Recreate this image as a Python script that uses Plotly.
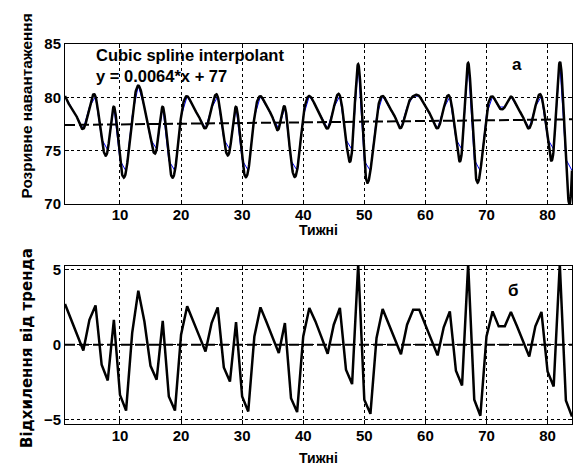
import numpy as np
import plotly.graph_objects as go

# ---------------- data ----------------
weeks = list(range(1, 85))

load = [80.13, 79.08, 78.09, 77.05, 79.10, 80.07, 76.10, 75.06, 79.13, 74.11,
        73.07, 78.28, 81.10, 79.04, 76.09, 75.16, 79.11, 74.06, 73.12, 78.20,
        80.10, 79.04, 78.11, 77.10, 79.01, 80.07, 76.05, 75.12, 79.11, 74.13,
        73.14, 78.16, 80.11, 79.12, 78.09, 77.07, 79.09, 74.07, 73.15, 78.22,
        80.12, 79.23, 78.17, 77.08, 79.03, 80.15, 76.03, 75.08, 83.11, 74.04,
        73.11, 78.18, 80.13, 79.13, 78.20, 77.13, 79.10, 80.11, 80.12, 79.10,
        78.17, 77.09, 78.97, 80.04, 76.08, 75.10, 83.23, 74.16, 73.09, 78.41,
        80.08, 79.09, 79.10, 80.06, 79.11, 78.14, 77.11, 79.13, 80.10, 76.12,
        75.13, 83.32, 74.20, 73.14]

deviation = [2.72, 1.67, 0.67, -0.38, 1.67, 2.63, -1.34, -2.39, 1.67, -3.35,
             -4.40, 0.80, 3.62, 1.55, -1.41, -2.34, 1.60, -3.46, -4.40, 0.67,
             2.57, 1.50, 0.56, -0.45, 1.45, 2.50, -1.52, -2.46, 1.52, -3.46,
             -4.46, 0.56, 2.50, 1.50, 0.47, -0.56, 1.45, -3.57, -4.50, 0.56,
             2.46, 1.56, 0.49, -0.60, 1.34, 2.46, -1.67, -2.63, 5.40, -3.68,
             -4.62, 0.45, 2.39, 1.38, 0.45, -0.63, 1.34, 2.34, 2.34, 1.32,
             0.38, -0.71, 1.17, 2.23, -1.74, -2.72, 5.40, -3.68, -4.75, 0.56,
             2.23, 1.23, 1.23, 2.19, 1.23, 0.25, -0.78, 1.23, 2.19, -1.79,
             -2.79, 5.40, -3.73, -4.80]

trend_slope = 0.0064
trend_intercept = 77.4

x_ticks = [10, 20, 30, 40, 50, 60, 70, 80]
y_ticks_top = [70, 75, 80, 85]
y_ticks_bottom = [-5, 0, 5]

label_fit = "Cubic spline interpolant<br>y = 0.0064*x + 77"
ylabel_top = "Розривне навантаження"
ylabel_bottom = "Відхилення від тренда"
xlabel = "Тижні"


# ---------------- cubic spline (not-a-knot) ----------------
def spline_not_a_knot(x, y, xs):
    x = np.asarray(x, float)
    y = np.asarray(y, float)
    n = len(x)
    h = np.diff(x)
    A = np.zeros((n, n))
    b = np.zeros(n)
    for i in range(1, n - 1):
        A[i, i - 1] = h[i - 1]
        A[i, i] = 2 * (h[i - 1] + h[i])
        A[i, i + 1] = h[i]
        b[i] = 6 * ((y[i + 1] - y[i]) / h[i] - (y[i] - y[i - 1]) / h[i - 1])
    A[0, 0] = -h[1]
    A[0, 1] = h[0] + h[1]
    A[0, 2] = -h[0]
    A[n - 1, n - 3] = -h[n - 2]
    A[n - 1, n - 2] = h[n - 2] + h[n - 3]
    A[n - 1, n - 1] = -h[n - 3]
    M = np.linalg.solve(A, b)
    idx = np.clip(np.searchsorted(x, xs) - 1, 0, n - 2)
    t0 = x[idx]
    t1 = x[idx + 1]
    hh = t1 - t0
    a = t1 - xs
    bb = xs - t0
    return (M[idx] * a ** 3 / (6 * hh) + M[idx + 1] * bb ** 3 / (6 * hh)
            + (y[idx] / hh - M[idx] * hh / 6) * a
            + (y[idx + 1] / hh - M[idx + 1] * hh / 6) * bb)


xs = np.linspace(weeks[0], weeks[-1], (weeks[-1] - weeks[0]) * 20 + 1)
ys = spline_not_a_knot(weeks, load, xs)
trend = [trend_intercept + trend_slope * w for w in weeks]

FONT = "Liberation Sans, Arial, sans-serif"

fig = go.Figure()
fig.add_trace(go.Scatter(x=weeks, y=load, mode="lines",
                         line=dict(color="#0000ff", width=1),
                         xaxis="x", yaxis="y", showlegend=False))
fig.add_trace(go.Scatter(x=xs, y=ys, mode="lines",
                         line=dict(color="black", width=2.5),
                         xaxis="x", yaxis="y", showlegend=False))
fig.add_trace(go.Scatter(x=weeks, y=trend, mode="lines",
                         line=dict(color="black", width=2, dash="10px,4px"),
                         xaxis="x", yaxis="y", showlegend=False))

fig.add_trace(go.Scatter(x=weeks, y=deviation, mode="lines",
                         line=dict(color="black", width=2.5),
                         xaxis="x2", yaxis="y2", showlegend=False))
fig.add_trace(go.Scatter(x=[weeks[0], weeks[-1]], y=[0, 0], mode="lines",
                         line=dict(color="black", width=2, dash="10px,4px"),
                         xaxis="x2", yaxis="y2", showlegend=False))

axis_common = dict(showline=True, linecolor="black", linewidth=1, mirror="ticks",
                   ticks="inside", ticklen=4, tickcolor="black",
                   showgrid=True, gridcolor="black", gridwidth=1, griddash="dot",
                   zeroline=False,
                   tickfont=dict(family=FONT, size=15, color="black", weight="bold"))

fig.update_layout(
    width=573, height=467,
    margin=dict(l=65, r=1, t=44, b=43),
    paper_bgcolor="white", plot_bgcolor="white",
    xaxis=dict(domain=[0, 1], range=[1, 84], tickvals=x_ticks, anchor="y",
               ticklabelstandoff=-3, **axis_common),
    yaxis=dict(domain=[0.5789, 1], range=[70, 85], tickvals=y_ticks_top, anchor="x", **axis_common),
    xaxis2=dict(domain=[0, 1], range=[1, 84], tickvals=x_ticks, anchor="y2",
                ticklabelstandoff=-2, **axis_common),
    yaxis2=dict(domain=[0, 0.4171], range=[-5.3, 5.3], tickvals=y_ticks_bottom, anchor="x2", **axis_common),
)

annotations = [
    dict(text=label_fit, x=0.0578, y=1.0, xanchor="left", yanchor="top", align="left",
         font=dict(family=FONT, color="black", size=16.5, weight="bold")),
    dict(text="а", x=0.8915, y=0.946, xanchor="center", yanchor="middle",
         font=dict(family=FONT, color="black", size=17, weight="bold")),
    dict(text="б", x=0.884, y=0.3526, xanchor="center", yanchor="middle",
         font=dict(family=FONT, color="black", size=17, weight="bold")),
    dict(text=xlabel, x=0.5, y=0.510, xanchor="center", yanchor="middle",
         font=dict(family=FONT, color="black", size=14, weight="bold")),
    dict(text=xlabel, x=0.5, y=-0.0895, xanchor="center", yanchor="middle",
         font=dict(family=FONT, color="black", size=14, weight="bold")),
    dict(text=ylabel_top, textangle=-90, x=-0.075, y=0.5895, xanchor="center",
         yanchor="bottom", font=dict(family=FONT, color="black", size=15.4, weight="bold")),
    dict(text=ylabel_bottom, textangle=-90, x=-0.075, y=0.2, xanchor="center",
         yanchor="middle", font=dict(family="DejaVu Sans", color="black", size=15, weight="bold")),
]
for a in annotations:
    a.update(xref="paper", yref="paper", showarrow=False)
fig.update_layout(annotations=annotations)

fig.write_html("out.html",
               config={"displayModeBar": False},
               post_script="document.body.style.margin='0px';"
                           "document.body.style.overflow='hidden';")
